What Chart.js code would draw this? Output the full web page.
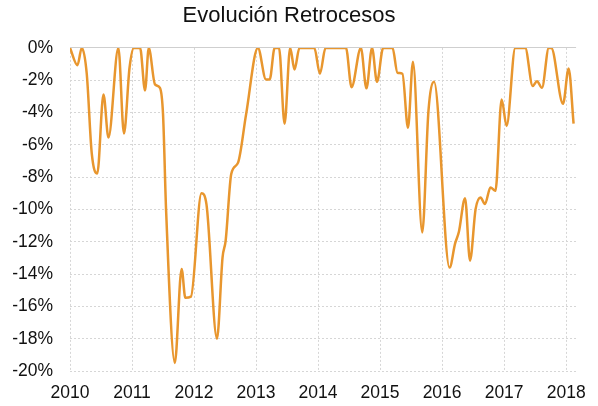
<!DOCTYPE html>
<html>
<head>
<meta charset="utf-8">
<script src="https://cdn.jsdelivr.net/npm/chart.js@4"></script>
<style>
  html, body { margin: 0; padding: 0; background: #fff; }
  #wrap { width: 598px; height: 406px; }
</style>
</head>
<body>
<div id="wrap"><canvas id="c" width="598" height="406"></canvas></div>
<script>
const titulo = "Evolución Retrocesos";
const aniosTicks = [2010, 2011, 2012, 2013, 2014, 2015, 2016, 2017, 2018];
const fechas = [
  2010.00, 2010.12, 2010.19, 2010.27, 2010.35, 2010.44, 2010.54, 2010.62, 2010.78, 2010.87,
  2010.96, 2011.03, 2011.13, 2011.21, 2011.27, 2011.37, 2011.45, 2011.50, 2011.55, 2011.69,
  2011.80, 2011.86, 2011.95, 2012.12, 2012.20, 2012.37, 2012.46, 2012.51, 2012.60, 2012.71,
  2012.84, 2013.03, 2013.16, 2013.22, 2013.30, 2013.37, 2013.46, 2013.55, 2013.62, 2013.70,
  2013.94, 2014.03, 2014.12, 2014.45, 2014.54, 2014.69, 2014.78, 2014.87, 2014.95, 2015.05,
  2015.20, 2015.28, 2015.36, 2015.45, 2015.53, 2015.68, 2015.78, 2015.87, 2016.12, 2016.21,
  2016.27, 2016.37, 2016.45, 2016.54, 2016.62, 2016.69, 2016.78, 2016.86, 2016.96, 2017.04,
  2017.18, 2017.34, 2017.46, 2017.53, 2017.61, 2017.72, 2017.76, 2017.95, 2018.04, 2018.12
];
const retrocesos = [
  0, -1.07, 0, -1.6, -6.5, -7.78, -2.88, -5.55, 0, -5.3,
  -1.23, 0, 0, -2.63, 0, -2.26, -2.47, -4.1, -10.1, -19.5,
  -13.68, -15.47, -15.4, -9.0, -9.67, -18.0, -12.96, -11.93, -7.8, -7.1,
  -4.1, 0, -1.95, -1.95, 0, 0, -4.69, 0, -1.34, 0,
  0, -1.6, 0, 0, -2.43, 0, -2.5, 0, -2.1, 0,
  0, -1.54, -1.6, -4.94, -0.86, -11.42, -3.9, -2.1, -13.6, -12.1,
  -11.4, -9.3, -13.17, -9.98, -9.26, -9.67, -8.64, -8.85, -3.19, -4.83,
  0, 0, -2.36, -2.06, -2.47, 0, 0, -3.46, -1.27, -4.69
];

const puntos = fechas.map((x, i) => ({ x: x, y: retrocesos[i] }));

new Chart(document.getElementById('c'), {
  type: 'line',
  data: {
    datasets: [{
      data: puntos,
      borderColor: '#E8962E',
      borderWidth: 2.5,
      pointRadius: 0,
      fill: false,
      cubicInterpolationMode: 'monotone'
    }]
  },
  options: {
    responsive: false,
    animation: false,
    layout: { padding: { left: 0, right: 20, top: 0, bottom: 0 } },
    plugins: {
      legend: { display: false },
      tooltip: { enabled: false },
      title: {
        display: true,
        text: titulo,
        color: '#111',
        font: { family: 'Liberation Sans, Arial, sans-serif', size: 22, weight: 'normal' },
        padding: { top: 3, bottom: 18.5 }
      }
    },
    scales: {
      x: {
        type: 'linear',
        min: 2010,
        max: 2018.16,
        afterBuildTicks: (s) => { s.ticks = aniosTicks.map(v => ({ value: v })); },
        afterFit: (s) => { s.height = 35; },
        ticks: {
          stepSize: 1,
          autoSkip: false,
          maxRotation: 0,
          padding: 12,
          color: '#111',
          font: { family: 'Liberation Sans, Arial, sans-serif', size: 17.5 },
          callback: (v) => String(v)
        },
        grid: { color: '#d6d6d6', drawTicks: false, lineWidth: 1 },
        border: { display: false, dash: [2, 2] }
      },
      y: {
        min: -20,
        max: 0,
        afterFit: (s) => { s.width = 70; },
        ticks: {
          stepSize: 2,
          padding: 17,
          color: '#111',
          font: { family: 'Liberation Sans, Arial, sans-serif', size: 17.5 },
          callback: (v) => v + '%'
        },
        grid: {
          color: (ctx) => (ctx.tick && ctx.tick.value === 0) ? '#cfcfcf' : '#d6d6d6',
          drawTicks: false,
          lineWidth: 1
        },
        border: {
          display: false,
          dash: (ctx) => (ctx.tick && ctx.tick.value === 0) ? [] : [2, 2]
        }
      }
    }
  }
});
</script>
</body>
</html>
